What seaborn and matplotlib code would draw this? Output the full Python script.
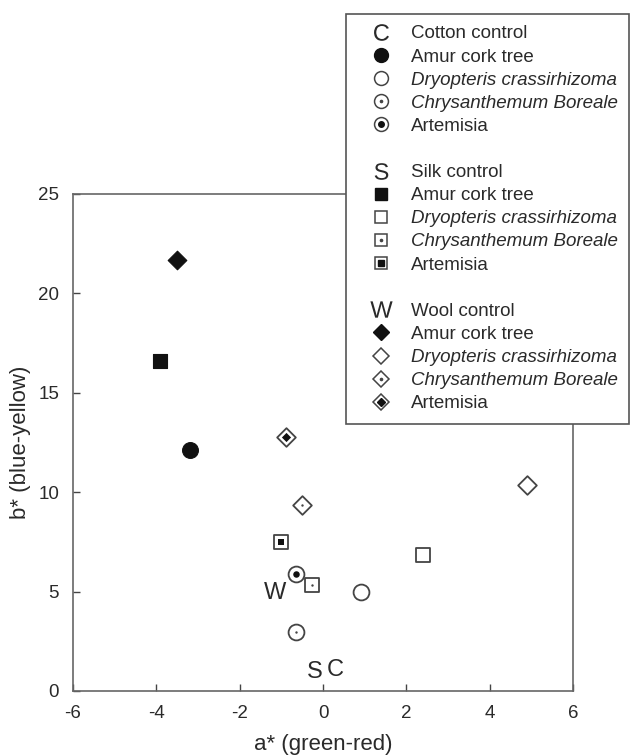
import matplotlib
matplotlib.use("Agg")
import matplotlib.pyplot as plt
import seaborn as sns
import pandas as pd
from matplotlib.lines import Line2D
from matplotlib.legend_handler import HandlerTuple

# CIE a*/b* values
fabrics = ["Cotton"] * 4 + ["Silk"] * 4 + ["Wool"] * 4
dyes = ["Amur cork tree", "Dryopteris crassirhizoma", "Chrysanthemum Boreale", "Artemisia"] * 3
a_star = [-3.2, 0.9, -0.65, -0.65,
          -3.9, 2.4, -0.27, -1.0,
          -3.5, 4.9, -0.5, -0.9]
b_star = [12.1, 5.0, 2.95, 5.9,
          16.6, 6.85, 5.35, 7.5,
          21.7, 10.35, 9.35, 12.8]

# undyed controls, drawn as letters
control_letters = ["C", "S", "W"]
control_names = ["Cotton control", "Silk control", "Wool control"]
control_a = [0.3, -0.2, -1.15]
control_b = [1.05, 0.95, 4.95]

df = pd.DataFrame({"fabric": fabrics, "dye": dyes, "a": a_star, "b": b_star})

sns.set_style("ticks")
plt.rcParams["font.family"] = ["Liberation Sans", "DejaVu Sans"]
plt.rcParams["axes.unicode_minus"] = False
plt.rcParams["mathtext.fontset"] = "custom"
plt.rcParams["mathtext.rm"] = "Liberation Sans"
ink = "#2a2a2a"
edge = "#444444"

shape = {"Cotton": "o", "Silk": "s", "Wool": "D"}
size = {"Cotton": 130, "Silk": 105, "Wool": 90}

fig = plt.figure(figsize=(6.33, 7.56), dpi=100)
ax = fig.add_axes([0.1153, 0.086, 0.79, 0.6574])

for (fab, dye), g in df.groupby(["fabric", "dye"], sort=False):
    m = shape[fab]
    s = size[fab]
    if dye == "Amur cork tree":
        sns.scatterplot(data=g, x="a", y="b", marker=m, s=s, color="#111111",
                        edgecolor="#111111", linewidth=0.8, ax=ax, zorder=3)
    else:
        sns.scatterplot(data=g, x="a", y="b", marker=m, s=s, color="white",
                        edgecolor=edge, linewidth=1.3, ax=ax, zorder=3)
        if dye == "Chrysanthemum Boreale":
            sns.scatterplot(data=g, x="a", y="b", marker="o", s=3, color=edge,
                            edgecolor=edge, linewidth=0, ax=ax, zorder=4)
        elif dye == "Artemisia":
            sns.scatterplot(data=g, x="a", y="b", marker=m, s=22, color="#111111",
                            edgecolor="#111111", linewidth=0, ax=ax, zorder=4)

for let, xa, yb in zip(control_letters, control_a, control_b):
    ax.text(xa, yb, let, fontsize=17, color=ink, ha="center", va="center")

ax.set_xlim(-6, 6)
ax.set_ylim(0, 25)
ax.set_xticks(range(-6, 7, 2))
ax.set_yticks(range(0, 26, 5))
ax.tick_params(direction="in", length=5, width=1, colors=edge, labelcolor=ink, labelsize=13.5, pad=10)
for sp in ax.spines.values():
    sp.set_color("#666666")
    sp.set_linewidth(1.2)
ax.set_xlabel("a* (green-red)", fontsize=16, color=ink, labelpad=9)
ax.set_ylabel("b* (blue-yellow)", fontsize=16, color=ink, labelpad=5)

# legend with the same marker construction
handles, labels = [], []
letter_ms = {"C": 12, "S": 12, "W": 16}
for gi, fab in enumerate(["Cotton", "Silk", "Wool"]):
    m = shape[fab]
    ms = {"Cotton": 10, "Silk": 9, "Wool": 8.5}[fab]
    let = control_letters[gi]
    handles.append(Line2D([], [], ls="", marker="$\\mathrm{%s}$" % let, ms=letter_ms[let],
                          mfc=ink, mec=ink, mew=0))
    labels.append(control_names[gi])
    handles.append(Line2D([], [], ls="", marker=m, ms=ms, mfc="#111111", mec="#111111"))
    labels.append("Amur cork tree")
    handles.append(Line2D([], [], ls="", marker=m, ms=ms, mfc="white", mec=edge, mew=1.1))
    labels.append("Dryopteris crassirhizoma")
    handles.append((Line2D([], [], ls="", marker=m, ms=ms, mfc="white", mec=edge, mew=1.1),
                    Line2D([], [], ls="", marker="o", ms=1.6, mfc=edge, mec=edge)))
    labels.append("Chrysanthemum Boreale")
    handles.append((Line2D([], [], ls="", marker=m, ms=ms, mfc="white", mec=edge, mew=1.1),
                    Line2D([], [], ls="", marker=m, ms=4, mfc="#111111", mec="#111111")))
    labels.append("Artemisia")
    if gi < 2:
        handles.append(Line2D([], [], ls="", marker=""))
        labels.append(" ")

leg = fig.legend(handles, labels, loc="upper left", bbox_to_anchor=(346 / 633, 1 - 14 / 756),
                 frameon=True, fancybox=False, framealpha=1, edgecolor="#555555",
                 fontsize=13.5, labelspacing=0.32, handlelength=2.5, handletextpad=0.35,
                 borderpad=0.6, borderaxespad=0,
                 handler_map={tuple: HandlerTuple(ndivide=1)})
leg.get_frame().set_linewidth(1.2)
for t in leg.get_texts():
    t.set_color(ink)
    if t.get_text() in ("Dryopteris crassirhizoma", "Chrysanthemum Boreale"):
        t.set_fontstyle("italic")

fig.savefig("out.png", dpi=100)
